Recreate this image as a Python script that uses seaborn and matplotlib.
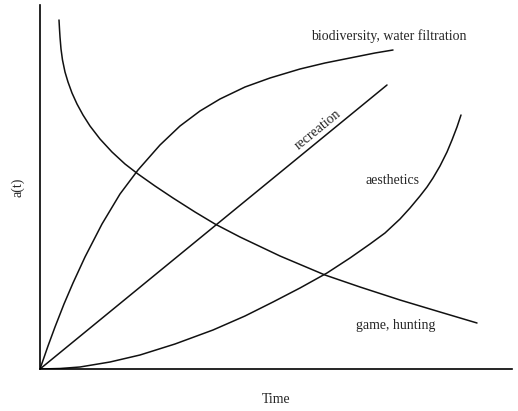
import pandas as pd
import seaborn as sns
import matplotlib.pyplot as plt

# values (time units, a(t) units)
bio_t = [0, 8, 15, 24, 33, 45, 62, 80, 98, 120, 140, 160, 180, 205, 230, 260, 285, 310, 335, 353]
bio_a = [0, 23, 42, 65, 86, 112, 145, 175, 199, 224, 243, 258, 270, 282, 291, 300, 306, 311, 316, 319]

rec_t = [0, 347]
rec_a = [0, 284]

aes_t = [0, 20, 40, 70, 100, 135, 173, 205, 233, 260, 287, 310, 330, 345, 360, 370, 380,
         387, 393, 400, 407, 412, 417, 421]
aes_a = [0, 0.5, 2, 7, 14, 25, 39, 53, 67, 81, 96, 111, 125, 136, 150, 161, 173,
         182, 191, 203, 217, 229, 242, 254]

game_t = [19, 19.5, 20, 21, 22.5, 25, 28, 32, 37, 43, 50, 60, 72, 85, 98, 115, 133, 155,
          175, 200, 240, 285, 320, 360, 400, 437]
game_a = [349, 340, 332, 320, 309, 297, 287, 276, 265, 254, 243, 230, 217, 205, 195, 183,
          171, 157, 145, 132, 113, 94, 82, 69, 57, 46]

curves = pd.concat([
    pd.DataFrame({"t": bio_t, "a": bio_a, "k": "bio"}),
    pd.DataFrame({"t": rec_t, "a": rec_a, "k": "rec"}),
    pd.DataFrame({"t": aes_t, "a": aes_a, "k": "aes"}),
    pd.DataFrame({"t": game_t, "a": game_a, "k": "game"}),
])

sns.set_style("white")
plt.rcParams["font.family"] = ["Liberation Serif", "DejaVu Serif"]

fig = plt.figure(figsize=(5.18, 4.11), dpi=100)
ax = fig.add_axes([40 / 518, 42 / 411, 472 / 518, 364 / 411])

for k, g in curves.groupby("k", sort=False):
    sns.lineplot(data=g, x="t", y="a", ax=ax, color="#111111", lw=1.1,
                 sort=False, estimator=None)

ax.set_xlim(0, 472)
ax.set_ylim(0, 364)
ax.set_xticks([])
ax.set_yticks([])
for s in ["top", "right"]:
    ax.spines[s].set_visible(False)
for s in ["left", "bottom"]:
    ax.spines[s].set_color("black")
    ax.spines[s].set_linewidth(1.2)

fs = 10
ax.text(349, 333, "biodiversity, water filtration", ha="center", va="center", fontsize=fs)
ax.text(278, 239, "recreation", ha="center", va="center", fontsize=fs, rotation=39.3,
        rotation_mode="anchor")
ax.text(353, 189, "aesthetics", ha="center", va="center", fontsize=fs)
ax.text(356, 44, "game, hunting", ha="center", va="center", fontsize=fs)

ax.set_xlabel("Time", fontsize=fs, labelpad=17)
ax.set_ylabel("a(t)", fontsize=fs, labelpad=11)

fig.savefig("out.png", dpi=100)
